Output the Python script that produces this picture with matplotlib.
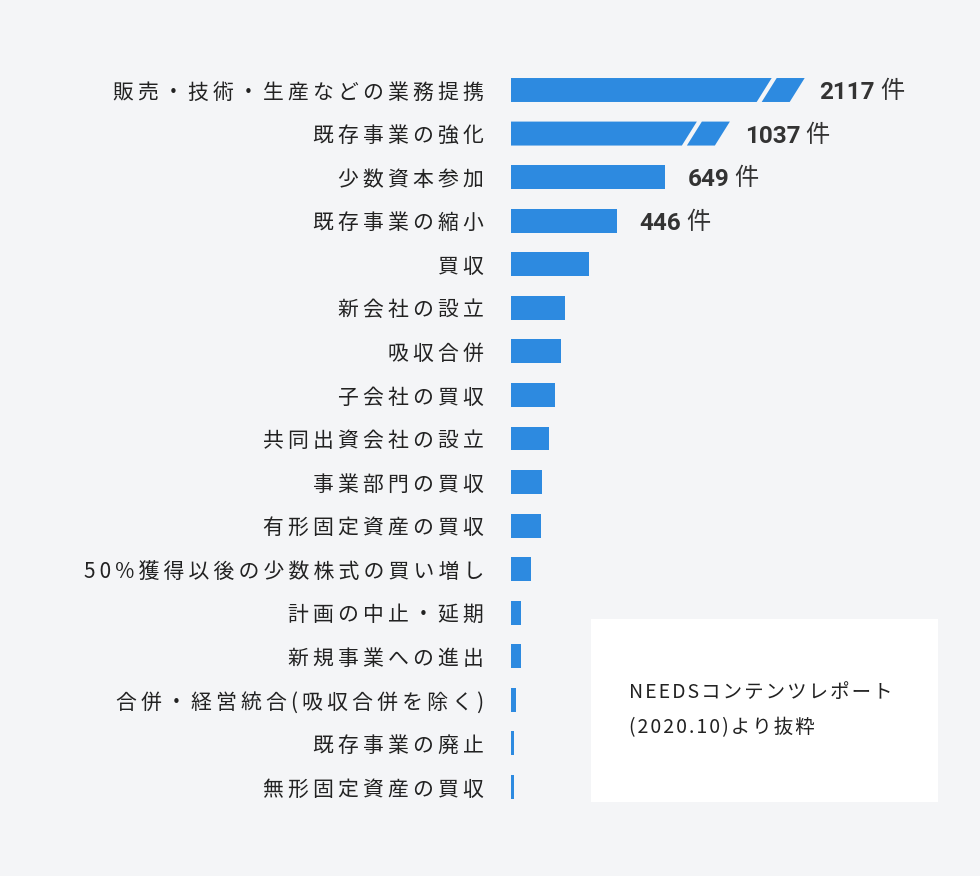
import matplotlib
matplotlib.use("Agg")
import matplotlib.pyplot as plt
from matplotlib.patches import Polygon, Rectangle

# ---- data ----
categories = [
    "販売・技術・生産などの業務提携",
    "既存事業の強化",
    "少数資本参加",
    "既存事業の縮小",
    "買収",
    "新会社の設立",
    "吸収合併",
    "子会社の買収",
    "共同出資会社の設立",
    "事業部門の買収",
    "有形固定資産の買収",
    "50%獲得以後の少数株式の買い増し",
    "計画の中止・延期",
    "新規事業への進出",
    "合併・経営統合(吸収合併を除く)",
    "既存事業の廃止",
    "無形固定資産の買収",
]
counts = [2117, 1037, 649, 446, 328, 227, 212, 184, 160, 129, 126, 86, 44, 42, 23, 14, 14]
n_labeled = 4
unit = "件"
source_lines = ["NEEDSコンテンツレポート", "(2020.10)より抜粋"]

# bars that are cut with a break mark: value -> drawn length (in counts)
broken = {2117: 1205, 1037: 890}

# ---- style ----
BG = "#f4f5f7"
BAR = "#2d8ae0"
plt.rcParams["font.family"] = ["Noto Sans CJK JP", "DejaVu Sans"]


def spaced(s, sep="\u2009"):
    # poor man's letter-spacing
    return sep.join(s)


W, H = 980, 876
fig = plt.figure(figsize=(W / 100, H / 100), dpi=100, facecolor=BG)

row = (787 - 90) / (len(categories) - 1)
top = 90 - row / 2
bottom = 787 + row / 2
ax = fig.add_axes([511 / W, 1 - bottom / H, 1 - 511 / W, (bottom - top) / H])
ax.set_facecolor(BG)
ax.set_xlim(0, 469 / 0.2375)
ax.set_ylim(len(categories) - 0.5, -0.5)

px = ax.bbox.width / ax.get_xlim()[1]  # pixels per count
h = 0.55
slant = 15 / px
gap = 5 / px
cut = 33 / px

for i, v in enumerate(counts):
    yb, yt = i + h / 2, i - h / 2
    if v in broken:
        end = broken[v]
        b = end - cut
        p1 = [(0, yb), (b - slant / 2, yb), (b + slant / 2, yt), (0, yt)]
        p2 = [(b + gap - slant / 2, yb), (end - slant / 2, yb),
              (end + slant / 2, yt), (b + gap + slant / 2, yt)]
        ax.add_patch(Polygon(p1, closed=True, facecolor=BAR, lw=0))
        ax.add_patch(Polygon(p2, closed=True, facecolor=BAR, lw=0))
    else:
        end = v
        ax.barh(i, v, height=h, color=BAR, lw=0)

    if i < n_labeled:
        num = ax.annotate(str(v), xy=(end, i), xytext=(16, -2), textcoords="offset points",
                          ha="left", va="center", fontsize=17.5, fontweight="bold",
                          family=["Roboto", "Noto Sans CJK JP"], color="#333333")
        ax.annotate(unit, xy=(1, 0), xycoords=num, xytext=(4, 0), textcoords="offset points",
                    ha="left", va="bottom", fontsize=17.5, color="#333333")

ax.set_yticks(range(len(categories)), [spaced(c) for c in categories])
ax.tick_params(axis="y", length=0, pad=19.4, labelsize=15, labelcolor="#222222")
ax.set_xticks([])
for s in ax.spines.values():
    s.set_visible(False)

# source box
fig.add_artist(Rectangle((591 / W, 1 - 802 / H), (938 - 591) / W, (802 - 619) / H,
                         transform=fig.transFigure, facecolor="white", lw=0))
fig.text(629 / W, 1 - 692 / H, spaced(source_lines[0], "\u200a"), va="center", ha="left",
         fontsize=14, color="#222222")
fig.text(629 / W, 1 - 728 / H, spaced(source_lines[1], "\u200a"), va="center", ha="left",
         fontsize=14, color="#222222")

fig.savefig("out.png", dpi=100, facecolor=BG)
